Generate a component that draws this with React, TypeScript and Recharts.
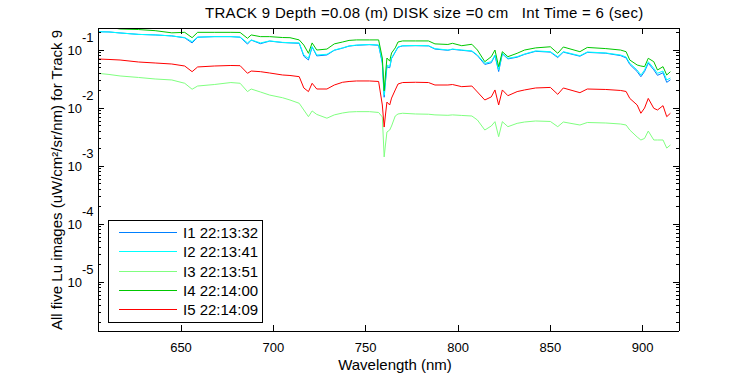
import { Legend, Line, LineChart, XAxis, YAxis } from "recharts";

const FONT = '"Liberation Sans", Arial, Helvetica, sans-serif';

// wavelength grid (nm)
const WAVELENGTH = [
  605, 611, 617, 627, 636, 645, 652, 656, 659, 668,
  677, 682, 686, 688, 693, 698, 705, 709, 714, 716.5,
  719, 721, 723.5, 729, 733, 737.5, 741, 745, 752, 757,
  759, 760, 760.7, 761.5, 763, 764, 766, 767.5, 770, 777,
  784, 787.5, 794.5, 797, 802, 807.5, 810.5, 814.5, 818, 820,
  822, 824, 827, 832, 836, 842, 850, 854, 857, 866,
  870, 880, 888, 891, 893, 897, 899, 901, 903, 906,
  908, 911, 913, 915
];

// Lu, uW/cm^2/sr/nm
const I1 = [
  0.209, 0.207, 0.199, 0.188, 0.184, 0.177, 0.164, 0.134, 0.168, 0.172,
  0.172, 0.168, 0.128, 0.15, 0.13, 0.144, 0.136, 0.134, 0.132, 0.079,
  0.068, 0.114, 0.08, 0.083, 0.1, 0.109, 0.118, 0.122, 0.125, 0.122,
  0.06, 0.0155, 0.028, 0.052, 0.05, 0.072, 0.093, 0.113, 0.119, 0.12,
  0.119, 0.105, 0.1, 0.104, 0.1, 0.096, 0.081, 0.057, 0.061, 0.081,
  0.043, 0.087, 0.071, 0.076, 0.085, 0.096, 0.093, 0.075, 0.093, 0.079,
  0.092, 0.089, 0.081, 0.074, 0.057, 0.043, 0.035, 0.043, 0.06, 0.046,
  0.037, 0.041, 0.028, 0.031
];
const I2 = [
  0.209, 0.207, 0.199, 0.188, 0.184, 0.177, 0.166, 0.141, 0.169, 0.172,
  0.172, 0.169, 0.134, 0.151, 0.134, 0.145, 0.137, 0.135, 0.134, 0.083,
  0.0728, 0.116, 0.083, 0.0854, 0.101, 0.11, 0.119, 0.123, 0.126, 0.123,
  0.0636, 0.0169, 0.0308, 0.0558, 0.0522, 0.0736, 0.0946, 0.114, 0.12, 0.121,
  0.12, 0.107, 0.101, 0.105, 0.101, 0.0976, 0.083, 0.0597, 0.0636, 0.083,
  0.0457, 0.0888, 0.0728, 0.0776, 0.0863, 0.0976, 0.0946, 0.0776, 0.0946, 0.0807,
  0.0935, 0.09, 0.083, 0.0766, 0.0597, 0.0457, 0.0375, 0.0457, 0.0636, 0.0489,
  0.0401, 0.0439, 0.0308, 0.0333
];
const I3 = [
  0.0401, 0.0383, 0.0361, 0.034, 0.032, 0.0308, 0.027, 0.0213, 0.0242, 0.0257,
  0.0278, 0.027, 0.0194, 0.0215, 0.0191, 0.0169, 0.0152, 0.0139, 0.0122, 0.00935,
  0.00717, 0.009, 0.00784, 0.00675, 0.0077, 0.0083, 0.00863, 0.00875, 0.00875, 0.00847,
  0.00708, 0.00145, 0.00233, 0.0039, 0.00422, 0.00495, 0.00736, 0.00798, 0.00821, 0.00798,
  0.0079, 0.0077, 0.00757, 0.0077, 0.00753, 0.00736, 0.00628, 0.00422, 0.00495, 0.00588,
  0.00324, 0.00588, 0.00482, 0.0055, 0.0058, 0.00604, 0.00593, 0.00482, 0.0058, 0.00515,
  0.00569, 0.00558, 0.00536, 0.00515, 0.00422, 0.0032, 0.00284, 0.00302, 0.00405, 0.00284,
  0.00284, 0.00284, 0.00206, 0.00233
];
const I4 = [
  0.26, 0.25, 0.233, 0.228, 0.218, 0.2, 0.204, 0.165, 0.204, 0.204,
  0.204, 0.203, 0.161, 0.184, 0.172, 0.172, 0.166, 0.165, 0.151, 0.123,
  0.0888, 0.134, 0.101, 0.105, 0.129, 0.139, 0.148, 0.151, 0.151, 0.151,
  0.0736, 0.02, 0.0375, 0.0736, 0.0651, 0.0898, 0.11, 0.139, 0.145, 0.145,
  0.145, 0.129, 0.126, 0.132, 0.12, 0.127, 0.101, 0.0636, 0.0776, 0.101,
  0.0522, 0.0946, 0.0776, 0.0888, 0.101, 0.11, 0.115, 0.0888, 0.114, 0.0946,
  0.112, 0.107, 0.101, 0.0946, 0.068, 0.0558, 0.0536, 0.0522, 0.0728, 0.0636,
  0.0457, 0.0522, 0.0375, 0.0428
];
const I5 = [
  0.0708, 0.0695, 0.068, 0.0628, 0.0604, 0.058, 0.0536, 0.0428, 0.0516, 0.0536,
  0.0547, 0.0543, 0.0401, 0.0439, 0.0428, 0.0406, 0.0375, 0.0368, 0.0351, 0.0224,
  0.0194, 0.027, 0.0215, 0.0215, 0.0252, 0.0281, 0.029, 0.0296, 0.0296, 0.029,
  0.0114, 0.00475, 0.00766, 0.0128, 0.0114, 0.015, 0.0207, 0.0262, 0.0278, 0.0281,
  0.0278, 0.0252, 0.0252, 0.0257, 0.0236, 0.0242, 0.0191, 0.0139, 0.0157, 0.0207,
  0.0114, 0.0207, 0.0165, 0.0194, 0.0207, 0.0224, 0.0229, 0.0174, 0.0224, 0.0186,
  0.0215, 0.0211, 0.0203, 0.0195, 0.0148, 0.0114, 0.00821, 0.0101, 0.0148, 0.01,
  0.00935, 0.0111, 0.00717, 0.00821
];

const SERIES = [
  { key: "i1", name: "I1 22:13:32", color: "#0080ff" },
  { key: "i2", name: "I2 22:13:41", color: "#00ffff" },
  { key: "i3", name: "I3 22:13:51", color: "#80ff80" },
  { key: "i4", name: "I4 22:14:00", color: "#00c800" },
  { key: "i5", name: "I5 22:14:09", color: "#ff0000" }
];

const X_TICKS = [650, 700, 750, 800, 850, 900];
const X_DOMAIN = [605.05, 919.65];
const Y_DOMAIN = [1.446e-6, 0.2423];

const Y_TICKS: number[] = [];
for (let e = -6; e <= -1; e++) {
  for (let k = 1; k <= 9; k++) {
    const v = k * Math.pow(10, e);
    if (v >= Y_DOMAIN[0] && v <= Y_DOMAIN[1]) Y_TICKS.push(v);
  }
}

const rows = WAVELENGTH.map((w, i) => ({
  w,
  i1: I1[i],
  i2: I2[i],
  i3: I3[i],
  i4: I4[i],
  i5: I5[i]
}));

const isMajor = (v: number) => Math.abs(Math.log10(v) - Math.round(Math.log10(v))) < 1e-6;

// fixed-position caption; ignores the props recharts injects into labels
function Caption({ tx, ty, rot, anchor, spacing, text }: any) {
  return (
    <text
      transform={`translate(${tx},${ty})${rot ? ` rotate(${rot})` : ""}`}
      textAnchor={anchor || "start"}
      fontSize={15}
      fontFamily={FONT}
      fill="#000"
      style={{ whiteSpace: "pre", letterSpacing: spacing || 0 }}
    >
      {text}
    </text>
  );
}

function BottomTick(props: any) {
  const { x, y, payload } = props;
  return (
    <g>
      <line x1={x} x2={x} y1={y} y2={y - 6} stroke="#000" shapeRendering="crispEdges" />
      <text x={x} y={y + 20.5} textAnchor="middle" fontSize={13} fontFamily={FONT} fill="#000">
        {payload.value}
      </text>
    </g>
  );
}

function TopTick(props: any) {
  const { x, y } = props;
  return <line x1={x} x2={x} y1={y} y2={y + 6} stroke="#000" shapeRendering="crispEdges" />;
}

function LeftTick(props: any) {
  const { x, y, payload } = props;
  const major = isMajor(payload.value);
  return (
    <g>
      <line x1={x} x2={x + (major ? 6 : 3)} y1={y} y2={y} stroke="#000" shapeRendering="crispEdges" />
      {major && (
        <>
          <text x={x - 16} y={y + 4.7} textAnchor="end" fontSize={13} fontFamily={FONT} fill="#000">
            10
          </text>
          <text x={x - 16} y={y - 8.6} textAnchor="start" fontSize={13} fontFamily={FONT} fill="#000">
            {Math.round(Math.log10(payload.value))}
          </text>
        </>
      )}
    </g>
  );
}

function RightTick(props: any) {
  const { x, y, payload } = props;
  const major = isMajor(payload.value);
  return <line x1={x} x2={x - (major ? 6 : 3)} y1={y} y2={y} stroke="#000" shapeRendering="crispEdges" />;
}

function LegendBox() {
  return (
    <svg width={155} height={103} style={{ display: "block" }}>
      <rect x={0.5} y={0.5} width={154} height={102} fill="#fff" stroke="#000" shapeRendering="crispEdges" />
      {SERIES.map((s, i) => {
        const cy = Math.round(12 + i * 19.3) + 0.5;
        return (
          <g key={s.key}>
            <line x1={11} x2={69} y1={cy} y2={cy} stroke={s.color} shapeRendering="crispEdges" />
            <text x={75} y={cy + 5.8} fontSize={15} fontFamily={FONT} fill="#000">
              {s.name}
            </text>
          </g>
        );
      })}
    </svg>
  );
}

const axisLine = { stroke: "#000", shapeRendering: "crispEdges" } as any;

export default function App() {
  return (
    <div style={{ position: "absolute", left: 0, top: 0, width: 750, height: 375, background: "#fff" }}>
      <LineChart width={750} height={375} data={rows} margin={{ top: 0, right: 0, bottom: 0, left: 0 }}>
        <XAxis
          dataKey="w"
          type="number"
          domain={X_DOMAIN}
          allowDataOverflow
          ticks={X_TICKS}
          interval={0}
          height={44}
          tickSize={0}
          tickMargin={0}
          tickLine={false}
          axisLine={axisLine}
          tick={<BottomTick />}
          label={<Caption tx={395} ty={370} anchor="middle" text="Wavelength (nm)" />}
        />
        <XAxis
          xAxisId="top"
          orientation="top"
          dataKey="w"
          type="number"
          domain={X_DOMAIN}
          allowDataOverflow
          ticks={X_TICKS}
          interval={0}
          height={28}
          tickSize={0}
          tickMargin={0}
          tickLine={false}
          axisLine={axisLine}
          tick={<TopTick />}
          label={
            <Caption
              tx={205}
              ty={17.5}
              spacing={0.3}
              text={"TRACK 9 Depth =0.08 (m) DISK size =0 cm   Int Time = 6 (sec)"}
            />
          }
        />
        <YAxis
          type="number"
          scale="log"
          domain={Y_DOMAIN}
          allowDataOverflow
          ticks={Y_TICKS}
          interval={0}
          width={98}
          tickSize={0}
          tickMargin={0}
          tickLine={false}
          axisLine={axisLine}
          tick={<LeftTick />}
          label={
            <Caption
              tx={62}
              ty={180}
              rot={-90}
              anchor="middle"
              text="All five Lu images (uW/cm²/sr/nm) for Track 9"
            />
          }
        />
        <YAxis
          yAxisId="right"
          orientation="right"
          type="number"
          scale="log"
          domain={Y_DOMAIN}
          allowDataOverflow
          ticks={Y_TICKS}
          interval={0}
          width={71}
          tickSize={0}
          tickMargin={0}
          tickLine={false}
          axisLine={axisLine}
          tick={<RightTick />}
        />
        {SERIES.map((s) => (
          <Line
            key={s.key}
            dataKey={s.key}
            name={s.name}
            type="linear"
            stroke={s.color}
            strokeWidth={1}
            dot={false}
            activeDot={false}
            isAnimationActive={false}
          />
        ))}
        <Legend
          layout="horizontal"
          verticalAlign="middle"
          align="center"
          wrapperStyle={{ left: 108, top: 220, width: 155, height: 103 }}
          content={() => <LegendBox />}
        />
      </LineChart>
    </div>
  );
}
